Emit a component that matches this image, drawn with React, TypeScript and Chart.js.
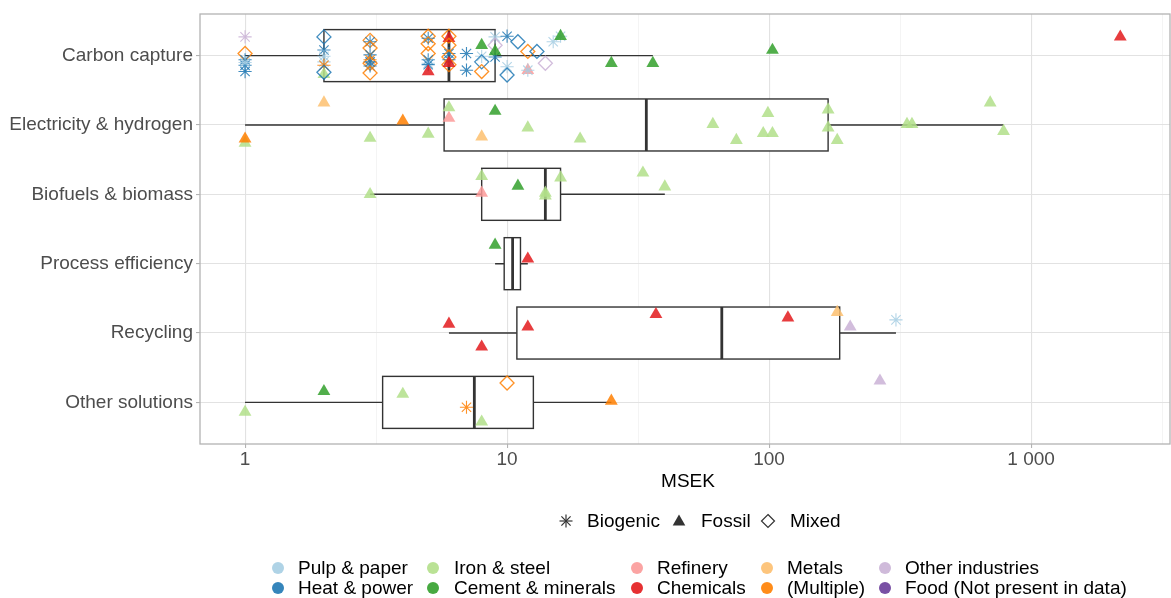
import { useEffect, useRef } from 'react';
import { Chart, registerables } from 'chart.js';

Chart.register(...registerables);

// ---------- DATA ----------
const solutions = [
  'Carbon capture',
  'Electricity & hydrogen',
  'Biofuels & biomass',
  'Process efficiency',
  'Recycling',
  'Other solutions',
];

const xMajorTicks = [1, 10, 100, 1000];
const xMajorLabels = ['1', '10', '100', '1 000'];
const xMinorTicks = [3.1623, 31.623, 316.23, 3162.3];

const sectorKeys = ['PP', 'HP', 'IS', 'CM', 'RF', 'CH', 'MT', 'MU', 'OI', 'FD'];
const sectorNames = [
  'Pulp & paper',
  'Heat & power',
  'Iron & steel',
  'Cement & minerals',
  'Refinery',
  'Chemicals',
  'Metals',
  '(Multiple)',
  'Other industries',
  'Food (Not present in data)',
];
const sectorColors = [
  '#A6CEE3',
  '#1F78B4',
  '#B2DF8A',
  '#33A02C',
  '#FB9A99',
  '#E31A1C',
  '#FDBF6F',
  '#FF7F00',
  '#CAB2D6',
  '#6A3D9A',
];
const emissionKeys = ['B', 'F', 'M'];
const emissionNames = ['Biogenic', 'Fossil', 'Mixed'];

// boxplot statistics (MSEK), one per solution
const whiskerLow = [1, 1, 3, 9, 6, 1];
const boxQ1 = [2, 5.75, 8, 9.75, 10.9, 3.35];
const boxMedian = [6, 34, 14, 10.5, 66, 7.5];
const boxQ3 = [9, 168, 16, 11.25, 186, 12.6];
const whiskerHigh = [36, 785, 40, 12, 305, 25];

// points: [MSEK, sector, CO2 origin, vertical jitter (category units)]
type Pt = [number, string, string, number];

const carbonCapturePoints: Pt[] = [
  [1, 'OI', 'B', -0.27],
  [1, 'MU', 'M', -0.03],
  [1, 'HP', 'B', 0.06],
  [1, 'HP', 'B', 0.14],
  [1, 'PP', 'B', 0.1],
  [1, 'HP', 'B', 0.23],
  [2, 'HP', 'M', -0.27],
  [2, 'HP', 'B', -0.08],
  [2, 'PP', 'B', 0.01],
  [2, 'PP', 'B', 0.09],
  [2, 'MU', 'B', 0.14],
  [2, 'IS', 'F', 0.27],
  [2, 'HP', 'M', 0.24],
  [3, 'MU', 'M', -0.22],
  [3, 'HP', 'B', -0.2],
  [3, 'MU', 'M', -0.11],
  [3, 'HP', 'B', -0.01],
  [3, 'MU', 'B', 0.06],
  [3, 'HP', 'B', 0.09],
  [3, 'MU', 'M', 0.11],
  [3, 'HP', 'B', 0.15],
  [3, 'MU', 'M', 0.25],
  [5, 'MU', 'M', -0.28],
  [5, 'HP', 'B', -0.25],
  [5, 'MU', 'M', -0.17],
  [5, 'MU', 'M', -0.03],
  [5, 'HP', 'B', 0.06],
  [5, 'PP', 'B', 0.11],
  [5, 'HP', 'B', 0.13],
  [5, 'CH', 'F', 0.23],
  [6, 'MU', 'M', -0.28],
  [6, 'CH', 'F', -0.25],
  [6, 'MU', 'M', -0.15],
  [6, 'HP', 'B', -0.03],
  [6, 'MU', 'M', 0.02],
  [6, 'HP', 'B', 0.06],
  [6, 'MU', 'M', 0.13],
  [6, 'CH', 'F', 0.11],
  [7, 'HP', 'B', -0.03],
  [7, 'HP', 'B', 0.21],
  [8, 'PP', 'B', 0.01],
  [8, 'HP', 'M', 0.09],
  [8, 'MU', 'M', 0.23],
  [8, 'CM', 'F', -0.15],
  [9, 'PP', 'B', -0.27],
  [9, 'OI', 'M', -0.15],
  [9, 'HP', 'B', 0.02],
  [9, 'CM', 'F', -0.06],
  [10, 'HP', 'B', -0.28],
  [10, 'PP', 'B', 0.16],
  [10, 'HP', 'M', 0.28],
  [11, 'HP', 'M', -0.2],
  [12, 'MU', 'M', -0.06],
  [12, 'RF', 'F', 0.21],
  [12, 'PP', 'B', 0.21],
  [13, 'HP', 'M', -0.06],
  [14, 'OI', 'M', 0.11],
  [15, 'PP', 'B', -0.2],
  [16, 'PP', 'B', -0.28],
  [16, 'CM', 'F', -0.28],
  [25, 'CM', 'F', 0.11],
  [36, 'CM', 'F', 0.11],
  [103, 'CM', 'F', -0.08],
  [2190, 'CH', 'F', -0.27],
];

const electricityPoints: Pt[] = [
  [2, 'MT', 'F', -0.32],
  [1, 'IS', 'F', 0.26],
  [1, 'MU', 'F', 0.2],
  [3, 'IS', 'F', 0.19],
  [4, 'MU', 'F', -0.06],
  [5, 'IS', 'F', 0.13],
  [6, 'IS', 'F', -0.25],
  [6, 'RF', 'F', -0.1],
  [9, 'CM', 'F', -0.2],
  [8, 'MT', 'F', 0.17],
  [12, 'IS', 'F', 0.04],
  [19, 'IS', 'F', 0.2],
  [61, 'IS', 'F', -0.01],
  [75, 'IS', 'F', 0.22],
  [99, 'IS', 'F', -0.17],
  [95, 'IS', 'F', 0.12],
  [103, 'IS', 'F', 0.12],
  [168, 'IS', 'F', -0.22],
  [168, 'IS', 'F', 0.04],
  [182, 'IS', 'F', 0.22],
  [336, 'IS', 'F', -0.01],
  [351, 'IS', 'F', -0.01],
  [698, 'IS', 'F', -0.32],
  [785, 'IS', 'F', 0.09],
];

const biofuelPoints: Pt[] = [
  [3, 'IS', 'F', 0.0],
  [8, 'IS', 'F', -0.26],
  [8, 'RF', 'F', -0.02],
  [11, 'CM', 'F', -0.12],
  [14, 'IS', 'F', -0.02],
  [14, 'IS', 'F', 0.02],
  [16, 'IS', 'F', -0.24],
  [33, 'IS', 'F', -0.31],
  [40, 'IS', 'F', -0.11],
];

const processPoints: Pt[] = [
  [9, 'CM', 'F', -0.27],
  [12, 'CH', 'F', -0.07],
];

const recyclingPoints: Pt[] = [
  [6, 'CH', 'F', -0.13],
  [8, 'CH', 'F', 0.2],
  [12, 'CH', 'F', -0.09],
  [37, 'CH', 'F', -0.27],
  [118, 'CH', 'F', -0.22],
  [182, 'MT', 'F', -0.3],
  [204, 'OI', 'F', -0.09],
  [305, 'PP', 'B', -0.19],
];

const otherPoints: Pt[] = [
  [1, 'IS', 'F', 0.14],
  [2, 'CM', 'F', -0.16],
  [4, 'IS', 'F', -0.12],
  [7, 'MU', 'B', 0.07],
  [8, 'IS', 'F', 0.28],
  [10, 'MU', 'M', -0.28],
  [25, 'MU', 'F', -0.02],
  [265, 'OI', 'F', -0.31],
];

const rowPoints = [
  carbonCapturePoints,
  electricityPoints,
  biofuelPoints,
  processPoints,
  recyclingPoints,
  otherPoints,
];

// ---------- STYLE ----------
const FONT = '"Liberation Sans", Arial, Helvetica, sans-serif';
const AXIS_TEXT = '#4D4D4D';
const POINT_ALPHA = 0.85;
const W = 1171;
const H = 598;

function rgba(hex: string, a: number) {
  const n = parseInt(hex.slice(1), 16);
  return `rgba(${(n >> 16) & 255},${(n >> 8) & 255},${n & 255},${a})`;
}
function colorOf(key: string) {
  return sectorColors[sectorKeys.indexOf(key)];
}
const styleOf: Record<string, string> = { B: 'star', F: 'triangle', M: 'rectRot' };
const radiusOf: Record<string, number> = { B: 6.6, F: 7.4, M: 7 };
const widthOf: Record<string, number> = { B: 1.1, F: 0, M: 1.3 };

const boxPlugin = {
  id: 'boxes',
  beforeDatasetsDraw(chart: any) {
    const { ctx } = chart;
    const x = chart.scales.x;
    const y = chart.scales.y;
    ctx.save();
    for (let i = 0; i < solutions.length; i++) {
      const yc = y.getPixelForValue(i + 1);
      const yt = y.getPixelForValue(i + 1 - 0.375);
      const yb = y.getPixelForValue(i + 1 + 0.375);
      const xl = x.getPixelForValue(whiskerLow[i]);
      const x1 = x.getPixelForValue(boxQ1[i]);
      const xm = x.getPixelForValue(boxMedian[i]);
      const x3 = x.getPixelForValue(boxQ3[i]);
      const xh = x.getPixelForValue(whiskerHigh[i]);
      ctx.strokeStyle = '#333333';
      ctx.lineWidth = 1.4;
      ctx.beginPath();
      ctx.moveTo(xl, yc);
      ctx.lineTo(x1, yc);
      ctx.moveTo(x3, yc);
      ctx.lineTo(xh, yc);
      ctx.stroke();
      ctx.fillStyle = '#ffffff';
      ctx.fillRect(x1, yt, x3 - x1, yb - yt);
      ctx.strokeRect(x1, yt, x3 - x1, yb - yt);
      ctx.lineWidth = 2.8;
      ctx.beginPath();
      ctx.moveTo(xm, yt);
      ctx.lineTo(xm, yb);
      ctx.stroke();
    }
    ctx.restore();
  },
  afterDatasetsDraw(chart: any) {
    const { ctx, chartArea } = chart;
    ctx.save();
    ctx.strokeStyle = '#B3B3B3';
    ctx.lineWidth = 1.3;
    ctx.strokeRect(
      chartArea.left,
      chartArea.top,
      chartArea.right - chartArea.left,
      chartArea.bottom - chartArea.top
    );
    ctx.restore();
  },
};

function isMajor(v: number) {
  return xMajorTicks.some((m) => Math.abs(m - v) < 1e-6);
}

function AsteriskIcon() {
  return (
    <svg width="16" height="16" viewBox="-8 -8 16 16" style={{ display: 'block' }}>
      <g stroke="#333" strokeWidth="1.2">
        <line x1="-6.5" y1="0" x2="6.5" y2="0" />
        <line x1="0" y1="-6.5" x2="0" y2="6.5" />
        <line x1="-4.6" y1="-4.6" x2="4.6" y2="4.6" />
        <line x1="-4.6" y1="4.6" x2="4.6" y2="-4.6" />
      </g>
    </svg>
  );
}
function TriangleIcon() {
  return (
    <svg width="16" height="16" viewBox="-8 -8 16 16" style={{ display: 'block' }}>
      <polygon points="0,-6.5 6.3,4.5 -6.3,4.5" fill="#333" />
    </svg>
  );
}
function DiamondIcon() {
  return (
    <svg width="16" height="16" viewBox="-8 -8 16 16" style={{ display: 'block' }}>
      <polygon points="0,-6.5 6.5,0 0,6.5 -6.5,0" fill="none" stroke="#333" strokeWidth="1.2" />
    </svg>
  );
}

export default function App() {
  const canvasRef = useRef<HTMLCanvasElement | null>(null);

  useEffect(() => {
    if (!canvasRef.current) return;
    const datasets = rowPoints.map((pts, i) => ({
      type: 'scatter' as const,
      label: solutions[i],
      data: pts.map((p) => ({ x: p[0], y: i + 1 + p[3] })),
      pointStyle: pts.map((p) => styleOf[p[2]]),
      pointRadius: pts.map((p) => radiusOf[p[2]]),
      pointBackgroundColor: pts.map((p) =>
        p[2] === 'F' ? rgba(colorOf(p[1]), POINT_ALPHA) : 'rgba(0,0,0,0)'
      ),
      pointBorderColor: pts.map((p) => rgba(colorOf(p[1]), POINT_ALPHA)),
      pointBorderWidth: pts.map((p) => widthOf[p[2]]),
      showLine: false,
    }));

    const chart = new Chart(canvasRef.current, {
      type: 'scatter',
      data: { datasets },
      plugins: [boxPlugin],
      options: {
        animation: false,
        responsive: false,
        maintainAspectRatio: false,
        events: [],
        layout: { autoPadding: false, padding: { top: 14, right: 1, left: 0, bottom: 0 } },
        plugins: { legend: { display: false }, tooltip: { enabled: false } },
        scales: {
          x: {
            type: 'logarithmic',
            position: 'bottom',
            min: 0.673,
            max: 3390,
            afterBuildTicks: (s: any) => {
              s.ticks = [...xMajorTicks, ...xMinorTicks]
                .sort((a, b) => a - b)
                .map((v) => ({ value: v }));
            },
            afterFit: (s: any) => {
              s.height = 154;
              s.paddingLeft = 0;
              s.paddingRight = 0;
            },
            ticks: {
              autoSkip: false,
              maxRotation: 0,
              padding: 0,
              color: AXIS_TEXT,
              font: { family: FONT, size: 19 },
              callback: (v: any) => {
                const idx = xMajorTicks.findIndex((m) => Math.abs(m - Number(v)) < 1e-6);
                return idx >= 0 ? xMajorLabels[idx] : '';
              },
            },
            grid: {
              color: (c: any) => (isMajor(c.tick.value) ? '#E2E2E2' : '#EFEFEF'),
              lineWidth: (c: any) => (isMajor(c.tick.value) ? 1.1 : 0.7),
              tickColor: (c: any) => (isMajor(c.tick.value) ? '#B3B3B3' : 'rgba(0,0,0,0)'),
              tickLength: 4,
              drawTicks: true,
            },
            border: { display: false },
          },
          y: {
            type: 'linear',
            reverse: true,
            min: 0.4,
            max: 6.6,
            afterBuildTicks: (s: any) => {
              s.ticks = solutions.map((_, i) => ({ value: i + 1 }));
            },
            afterFit: (s: any) => {
              s.width = 200;
              s.paddingTop = 0;
              s.paddingBottom = 0;
            },
            ticks: {
              padding: 3,
              color: AXIS_TEXT,
              font: { family: FONT, size: 19 },
              callback: (v: any) => solutions[Math.round(Number(v)) - 1] ?? '',
            },
            grid: {
              color: '#E2E2E2',
              lineWidth: 1.1,
              tickColor: '#B3B3B3',
              tickLength: 4,
              drawTicks: true,
            },
            border: { display: false },
          },
        },
      },
    } as any);
    return () => chart.destroy();
  }, []);

  const shapeIcons = [<AsteriskIcon />, <TriangleIcon />, <DiamondIcon />];
  const shapeIconX = [566, 679, 768];
  const shapeTextX = [587, 701, 790];
  const colColDot = [278, 433, 637, 767, 885];
  const colColText = [298, 454, 657, 787, 905];
  const legendRowY = [568, 588];

  return (
    <div
      style={{
        position: 'fixed',
        left: 0,
        top: 0,
        width: W,
        height: H,
        background: '#ffffff',
        fontFamily: FONT,
        overflow: 'hidden',
      }}
    >
      <canvas
        ref={canvasRef}
        width={W}
        height={H}
        style={{ position: 'absolute', left: 0, top: 0, width: W, height: H, display: 'block' }}
      />
      <div
        style={{
          position: 'absolute',
          left: 588,
          top: 470,
          width: 200,
          textAlign: 'center',
          fontSize: 19,
          lineHeight: '22px',
          color: '#000',
        }}
      >
        MSEK
      </div>
      {emissionNames.map((name, i) => (
        <div key={emissionKeys[i]}>
          <div style={{ position: 'absolute', left: shapeIconX[i] - 8, top: 521 - 8 }}>
            {shapeIcons[i]}
          </div>
          <div
            style={{
              position: 'absolute',
              left: shapeTextX[i],
              top: 521 - 11,
              fontSize: 19,
              lineHeight: '22px',
              color: '#000',
              whiteSpace: 'nowrap',
            }}
          >
            {name}
          </div>
        </div>
      ))}
      {sectorNames.map((name, i) => {
        const col = Math.floor(i / 2);
        const row = i % 2;
        const cy = legendRowY[row];
        return (
          <div key={sectorKeys[i]}>
            <div
              style={{
                position: 'absolute',
                left: colColDot[col] - 6,
                top: cy - 6,
                width: 12,
                height: 12,
                borderRadius: 6,
                background: rgba(sectorColors[i], 0.9),
              }}
            />
            <div
              style={{
                position: 'absolute',
                left: colColText[col],
                top: cy - 11,
                fontSize: 19,
                lineHeight: '22px',
                color: '#000',
                whiteSpace: 'nowrap',
              }}
            >
              {name}
            </div>
          </div>
        );
      })}
    </div>
  );
}
